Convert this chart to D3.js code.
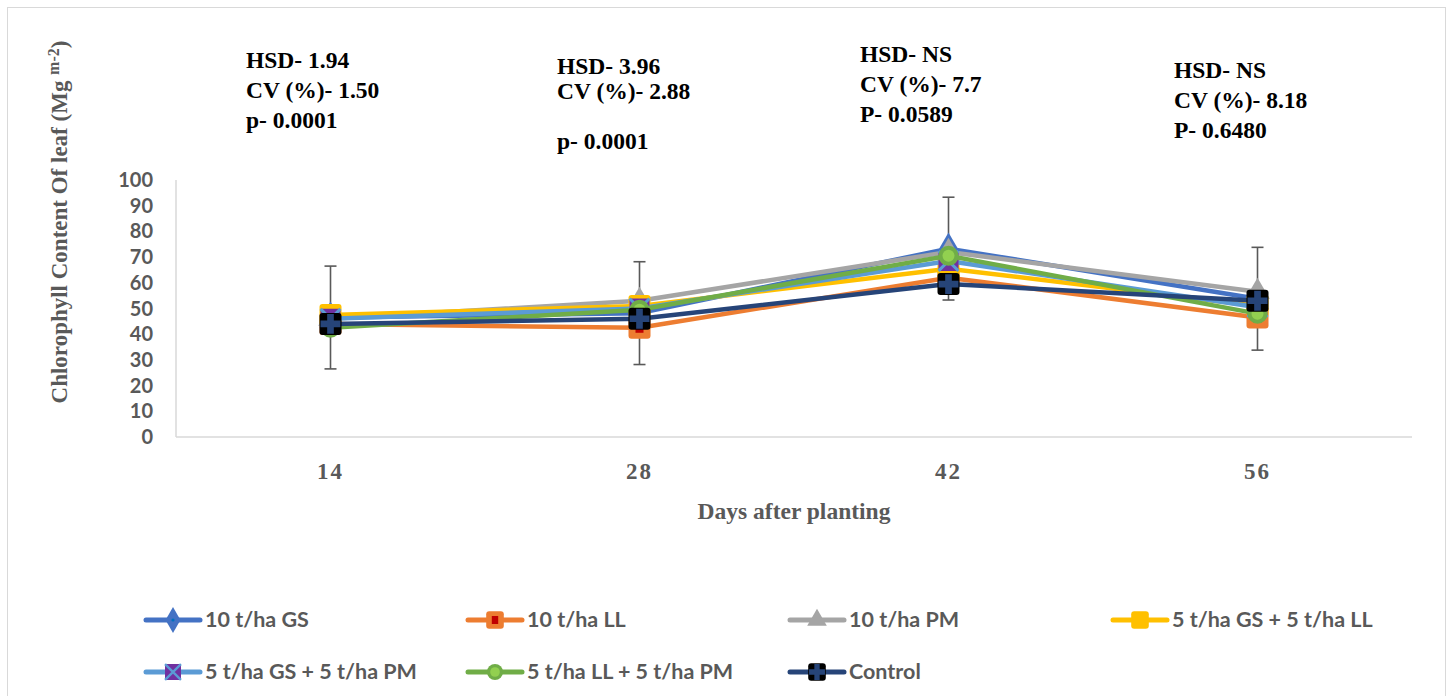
<!DOCTYPE html>
<html>
<head>
<meta charset="utf-8">
<title>Chlorophyll</title>
<script src="https://d3js.org/d3.v7.min.js"></script>
<style>
body { margin: 0; background: #fff; }
</style>
</head>
<body>
<script>

// data
var days = ["14", "28", "42", "56"]
var seriesNames = ["10 t/ha GS", "10 t/ha LL", "10 t/ha PM", "5 t/ha GS + 5 t/ha LL",
	"5 t/ha GS + 5 t/ha PM", "5 t/ha LL + 5 t/ha PM", "Control"]
var gs10 = [46.5, 48.2, 73.3, 53.8]
var ll10 = [44, 42.5, 62, 46.5]
var pm10 = [46, 53, 72, 56.5]
var gsll = [47.5, 51, 65.5, 51]
var gspm = [46, 50, 68.5, 50.5]
var llpm = [42.5, 49.5, 70.5, 48]
var control = [44, 46, 59.5, 53]
var errorBar = 20
var yTicks = [0, 10, 20, 30, 40, 50, 60, 70, 80, 90, 100]
var stats = [
	["HSD- 1.94", "CV (%)- 1.50", "p- 0.0001"],
	["HSD- 3.96", "CV (%)- 2.88", "", "p- 0.0001"],
	["HSD- NS", "CV (%)- 7.7", "P- 0.0589"],
	["HSD- NS", "CV (%)- 8.18", "P- 0.6480"]
]

var width = 1452
var height = 696
var gray = "#595959"
var sans = "Lato, 'Open Sans', sans-serif"
var serif = "'Liberation Serif', 'Times New Roman', serif"

var svg = d3.select('body').append('svg')
	.attr('width', width)
	.attr('height', height)

svg.append("rect")
	.attr("x", 7.5).attr("y", 7.5)
	.attr("width", 1438).attr("height", 700)
	.attr("fill", "none").attr("stroke", "#d9d9d9")

var x = d3.scaleBand().domain(days).range([176, 1412])
var y = d3.scaleLinear().domain([0, 100]).range([437, 180])
function cx(i) { return x(days[i]) + x.bandwidth() / 2 }

// axes
svg.append("line").attr("x1", 176).attr("x2", 176).attr("y1", y(100)).attr("y2", y(0))
	.attr("stroke", "#d9d9d9").attr("stroke-width", 1.5)
svg.append("line").attr("x1", 176).attr("x2", 1412).attr("y1", y(0)).attr("y2", y(0))
	.attr("stroke", "#d9d9d9").attr("stroke-width", 1.5)

svg.selectAll(".ytick").data(yTicks).enter().append("text")
	.attr("x", 153).attr("y", function(d) { return y(d) + 7 })
	.attr("text-anchor", "end")
	.style("font-family", sans).style("font-weight", "bold").style("font-size", "20px")
	.attr("fill", gray)
	.text(function(d) { return d })

svg.selectAll(".xtick").data(days).enter().append("text")
	.attr("x", function(d) { return x(d) + x.bandwidth() / 2 })
	.attr("y", 479)
	.attr("text-anchor", "middle")
	.style("font-family", serif).style("font-weight", "bold").style("font-size", "23px")
	.style("letter-spacing", "2px")
	.attr("fill", gray)
	.text(function(d) { return d })

svg.append("text")
	.attr("x", 794).attr("y", 519)
	.attr("text-anchor", "middle")
	.style("font-family", serif).style("font-weight", "bold").style("font-size", "23.5px")
	.attr("fill", gray)
	.text("Days after planting")

var yt = svg.append("text")
	.attr("transform", "translate(67,222) rotate(-90)")
	.attr("text-anchor", "middle")
	.style("font-family", serif).style("font-weight", "bold").style("font-size", "23px")
	.attr("fill", gray)
yt.append("tspan").text("Chlorophyll Content Of leaf (Mg ")
yt.append("tspan").attr("dy", -8).style("font-size", "16px").text("m-2")
yt.append("tspan").attr("dy", 8).text(")")

// stats annotations
var statPos = [[246, 68], [557, 74], [860, 62], [1174, 78]]
stats.forEach(function(lines, k) {
	var t = svg.append("text")
		.style("font-family", serif).style("font-weight", "bold").style("font-size", "23.5px")
		.attr("fill", "#000")
	lines.forEach(function(s, j) {
		t.append("tspan").attr("x", statPos[k][0]).attr("y", statPos[k][1] + j * (k == 1 ? 25 : 30)).text(s)
	})
})

// markers
var styles = [
	{ color: "#4472c4", marker: "diamond" },
	{ color: "#ed7d31", marker: "square", inner: "#c00000" },
	{ color: "#a5a5a5", marker: "triangle" },
	{ color: "#ffc000", marker: "square" },
	{ color: "#5b9bd5", marker: "x", border: "#7030a0" },
	{ color: "#70ad47", marker: "circle", inner: "#92d050" },
	{ color: "#264478", marker: "plus" }
]
var allSeries = [gs10, ll10, pm10, gsll, gspm, llpm, control]

function drawMarker(g, st, s) {
	s = s || 1
	if (st.marker == "diamond") {
		g.append("path").attr("d", d3.symbol(d3.symbolDiamond, 300 * s * s)).attr("fill", st.color)
		g.append("circle").attr("r", 2 * s).attr("fill", "#0070c0")
	} else if (st.marker == "square") {
		g.append("rect").attr("x", -11 * s).attr("y", -11 * s).attr("width", 22 * s).attr("height", 22 * s)
			.attr("rx", 3).attr("fill", st.color)
		if (st.inner) g.append("rect").attr("x", -4 * s).attr("y", -5 * s).attr("width", 8 * s).attr("height", 10 * s).attr("fill", st.inner)
	} else if (st.marker == "triangle") {
		g.append("path").attr("d", d3.symbol(d3.symbolTriangle, 260 * s * s)).attr("fill", st.color)
	} else if (st.marker == "x") {
		g.append("rect").attr("x", -10 * s).attr("y", -10 * s).attr("width", 20 * s).attr("height", 20 * s)
			.attr("rx", 2).attr("fill", st.border)
		g.append("path").attr("d", d3.symbol(d3.symbolX, 260 * s * s)).attr("fill", st.color)
			.attr("stroke", st.color).attr("stroke-width", 3 * s)
	} else if (st.marker == "circle") {
		g.append("circle").attr("r", 10 * s).attr("fill", st.color)
		g.append("circle").attr("r", 6 * s).attr("fill", st.inner)
	} else if (st.marker == "plus") {
		g.append("rect").attr("x", -11 * s).attr("y", -11 * s).attr("width", 22 * s).attr("height", 22 * s)
			.attr("rx", 3).attr("fill", "#000")
		g.append("path").attr("d", d3.symbol(d3.symbolCross, 220 * s * s)).attr("fill", st.color)
	}
}

var line = d3.line().x(function(d, i) { return cx(i) }).y(function(d) { return y(d) })

// error bars on first series
var eb = svg.append("g")
gs10.forEach(function(v, i) {
	eb.append("line").attr("x1", cx(i)).attr("x2", cx(i)).attr("y1", y(v + errorBar)).attr("y2", y(v - errorBar))
		.attr("stroke", gray).attr("stroke-width", 1.6)
	;[v + errorBar, v - errorBar].forEach(function(e) {
		eb.append("line").attr("x1", cx(i) - 6).attr("x2", cx(i) + 6).attr("y1", y(e)).attr("y2", y(e))
			.attr("stroke", gray).attr("stroke-width", 1.6)
	})
})

allSeries.forEach(function(vals, k) {
	var st = styles[k]
	svg.append("path").datum(vals).attr("d", line)
		.attr("fill", "none").attr("stroke", st.color).attr("stroke-width", 4.5)
		.attr("stroke-linejoin", "round")
	vals.forEach(function(v, i) {
		var g = svg.append("g").attr("transform", "translate(" + cx(i) + "," + y(v) + ")")
		drawMarker(g, st)
	})
})

// legend
var legPos = [[146, 620], [468, 620], [790, 620], [1113, 620], [146, 672], [468, 672], [790, 672]]
seriesNames.forEach(function(name, k) {
	var st = styles[k]
	var g = svg.append("g").attr("transform", "translate(" + legPos[k][0] + "," + legPos[k][1] + ")")
	g.append("line").attr("x1", 0).attr("x2", 54).attr("y1", 0).attr("y2", 0)
		.attr("stroke", st.color).attr("stroke-width", 5).attr("stroke-linecap", "round")
	var m = g.append("g").attr("transform", "translate(27,0)")
	drawMarker(m, st, 0.8)
	g.append("text").attr("x", 59).attr("y", 7)
		.style("font-family", sans).style("font-weight", "bold").style("font-size", "21.5px")
		.attr("fill", gray)
		.text(name)
})

</script>
</body>
</html>
